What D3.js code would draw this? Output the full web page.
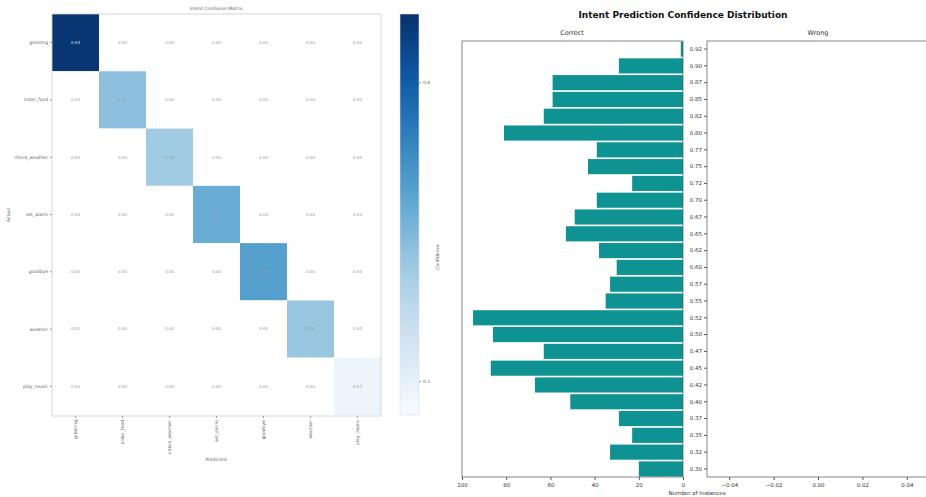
<!DOCTYPE html>
<html>
<head>
<meta charset="UTF-8">
<style>
body, html {
    margin: 0;
    padding: 0;
    width: 100%;
    height: 100%;
    overflow: hidden;
    background-color: #ffffff;
}
svg { display: block; }
text { font-family: "DejaVu Sans", sans-serif; }
</style>
</head>
<body>
<svg id="chart" width="926" height="497"></svg>
<script src="https://d3js.org/d3.v7.min.js"></script>
<script>
// heatmap data
let intents = ["greeting", "order_food", "check_weather", "set_alarm", "goodbye", "weather", "play_music"];
let diagConf = [0.94, 0.41, 0.36, 0.50, 0.55, 0.38, 0.07];
let cbTicks = [0.1, 0.8];

// confidence distribution data (top to bottom)
let confLabels = ["0.92", "0.90", "0.87", "0.85", "0.82", "0.80", "0.77", "0.75", "0.72", "0.70",
    "0.67", "0.65", "0.62", "0.60", "0.57", "0.55", "0.52", "0.50", "0.47", "0.45",
    "0.42", "0.40", "0.37", "0.35", "0.32", "0.30"];
let correctCounts = [1, 29, 59, 59, 63, 81, 39, 43, 23, 39, 49, 53, 38, 30, 33, 35, 95, 86, 63, 87, 67, 51, 29, 23, 33, 20];
let countTicks = [0, 20, 40, 60, 80, 100];
let wrongTicks = [-0.04, -0.02, 0, 0.02, 0.04];

let svg = d3.select("#chart");

// ---------- heatmap ----------
let matrix = [];
intents.forEach((r, i) => {
    intents.forEach((c, j) => {
        matrix.push({ row: r, col: c, value: i === j ? diagConf[i] : 0 });
    });
});

let hx = d3.scaleBand().domain(intents).range([52, 381]);
let hy = d3.scaleBand().domain(intents).range([14, 415]);
let color = d3.scaleSequential(d3.interpolateBlues).domain([0.02, 0.96]).clamp(true);

let hm = svg.append("g");
hm.selectAll("rect.cell")
    .data(matrix)
    .enter()
    .append("rect")
    .attr("class", "cell")
    .attr("x", d => hx(d.col))
    .attr("y", d => hy(d.row))
    .attr("width", hx.bandwidth())
    .attr("height", hy.bandwidth())
    .attr("fill", d => d.value > 0 ? color(d.value) : "#ffffff");

hm.selectAll("text.annot")
    .data(matrix)
    .enter()
    .append("text")
    .attr("class", "annot")
    .attr("x", d => hx(d.col) + hx.bandwidth() / 2)
    .attr("y", d => hy(d.row) + hy.bandwidth() / 2)
    .attr("dy", "0.35em")
    .attr("text-anchor", "middle")
    .attr("font-size", 4)
    .attr("fill", d => d.value > 0.6 ? "#dfe8f5" : "#999")
    .text(d => d3.format(".2f")(d.value));

// frame
hm.append("rect")
    .attr("x", 52).attr("y", 14).attr("width", 329).attr("height", 402)
    .attr("fill", "none").attr("stroke", "#ccc").attr("stroke-width", 0.8);

let hyAxis = hm.append("g")
    .attr("transform", "translate(52,0)")
    .call(d3.axisLeft(hy).tickSize(2).tickPadding(2));
hyAxis.select(".domain").remove();
hyAxis.selectAll("text").attr("font-size", 4.5).attr("fill", "#666");
hyAxis.selectAll("line").attr("stroke", "#999");

let hxAxis = hm.append("g")
    .attr("transform", "translate(0,416)")
    .call(d3.axisBottom(hx).tickSize(2).tickPadding(2));
hxAxis.select(".domain").remove();
hxAxis.selectAll("line").attr("stroke", "#999");
hxAxis.selectAll("text")
    .attr("font-size", 4.5).attr("fill", "#666")
    .attr("transform", "rotate(-90)")
    .attr("text-anchor", "end")
    .attr("x", -4).attr("y", 0).attr("dy", "0.35em");

hm.append("text").attr("x", 216).attr("y", 10).attr("text-anchor", "middle")
    .attr("font-size", 4.5).attr("fill", "#666").text("Intent Confusion Matrix");
hm.append("text").attr("x", 216).attr("y", 461).attr("text-anchor", "middle")
    .attr("font-size", 4.5).attr("fill", "#666").text("Predicted");
hm.append("text").attr("transform", "translate(10,215) rotate(-90)").attr("text-anchor", "middle")
    .attr("font-size", 4.5).attr("fill", "#666").text("Actual");

// colorbar
let cbScale = d3.scaleLinear().domain([0.02, 0.96]).range([415, 14]);
let defs = svg.append("defs");
let grad = defs.append("linearGradient").attr("id", "cbGrad")
    .attr("x1", 0).attr("y1", 1).attr("x2", 0).attr("y2", 0);
d3.range(0, 1.001, 0.05).forEach(t => {
    grad.append("stop").attr("offset", t).attr("stop-color", d3.interpolateBlues(t));
});
svg.append("rect").attr("x", 400).attr("y", 14).attr("width", 19).attr("height", 401)
    .attr("fill", "url(#cbGrad)").attr("stroke", "#ddd").attr("stroke-width", 0.6);
let cbAxis = svg.append("g").attr("transform", "translate(419,0)")
    .call(d3.axisRight(cbScale).tickValues(cbTicks).tickSize(2).tickPadding(2).tickFormat(d3.format(".1f")));
cbAxis.select(".domain").remove();
cbAxis.selectAll("text").attr("font-size", 4.5).attr("fill", "#666");
cbAxis.selectAll("line").attr("stroke", "#999");
svg.append("text").attr("transform", "translate(439,257) rotate(-90)").attr("text-anchor", "middle")
    .attr("font-size", 4.5).attr("fill", "#666").text("Confidence");

// ---------- confidence distribution ----------
let plotTop = 41, plotBottom = 477;
let y = d3.scaleBand().domain(confLabels).range([plotTop, plotBottom]).paddingInner(0.1).paddingOuter(0.03);
let xc = d3.scaleLinear().domain([0, 100]).range([683, 462]);
let xw = d3.scaleLinear().domain([-0.05, 0.05]).range([707, 929]);

svg.append("text").attr("x", 683).attr("y", 18).attr("text-anchor", "middle")
    .attr("font-size", 9).attr("font-weight", "bold").attr("fill", "#111")
    .text("Intent Prediction Confidence Distribution");

let leftG = svg.append("g");
leftG.selectAll("rect.bar")
    .data(correctCounts)
    .enter()
    .append("rect")
    .attr("class", "bar")
    .attr("x", d => xc(d))
    .attr("y", (d, i) => y(confLabels[i]))
    .attr("width", d => xc(0) - xc(d))
    .attr("height", y.bandwidth())
    .attr("fill", "#0e9392");

// left axes frame
leftG.append("rect").attr("x", 462).attr("y", plotTop).attr("width", 221).attr("height", plotBottom - plotTop)
    .attr("fill", "none").attr("stroke", "#555").attr("stroke-width", 0.7);
let lx = leftG.append("g").attr("transform", `translate(0,${plotBottom})`)
    .call(d3.axisBottom(xc).tickValues(countTicks).tickSize(3).tickPadding(3));
lx.select(".domain").remove();
lx.selectAll("text").attr("font-size", 5.5).attr("fill", "#333");
lx.selectAll("line").attr("stroke", "#555");
leftG.append("text").attr("x", 572).attr("y", 35).attr("text-anchor", "middle")
    .attr("font-size", 6.5).attr("fill", "#333").text("Correct");

// right axes (empty)
let rightG = svg.append("g");
rightG.append("rect").attr("x", 707).attr("y", plotTop).attr("width", 222).attr("height", plotBottom - plotTop)
    .attr("fill", "none").attr("stroke", "#555").attr("stroke-width", 0.7);
let ry = rightG.append("g").attr("transform", "translate(707,0)")
    .call(d3.axisLeft(y).tickSize(3).tickPadding(2));
ry.select(".domain").remove();
ry.selectAll("text").attr("font-size", 5.5).attr("fill", "#333");
ry.selectAll("line").attr("stroke", "#555");
let rx = rightG.append("g").attr("transform", `translate(0,${plotBottom})`)
    .call(d3.axisBottom(xw).tickValues(wrongTicks).tickSize(3).tickPadding(3)
        .tickFormat(d => d3.format(".2f")(d).replace("-", "\u2212")));
rx.select(".domain").remove();
rx.selectAll("text").attr("font-size", 5.5).attr("fill", "#333");
rx.selectAll("line").attr("stroke", "#555");
rightG.append("text").attr("x", 818).attr("y", 35).attr("text-anchor", "middle")
    .attr("font-size", 6.5).attr("fill", "#333").text("Wrong");

svg.append("text").attr("x", 697).attr("y", 495).attr("text-anchor", "middle")
    .attr("font-size", 5.5).attr("fill", "#333").text("Number of Instances");
</script>
</body>
</html>
